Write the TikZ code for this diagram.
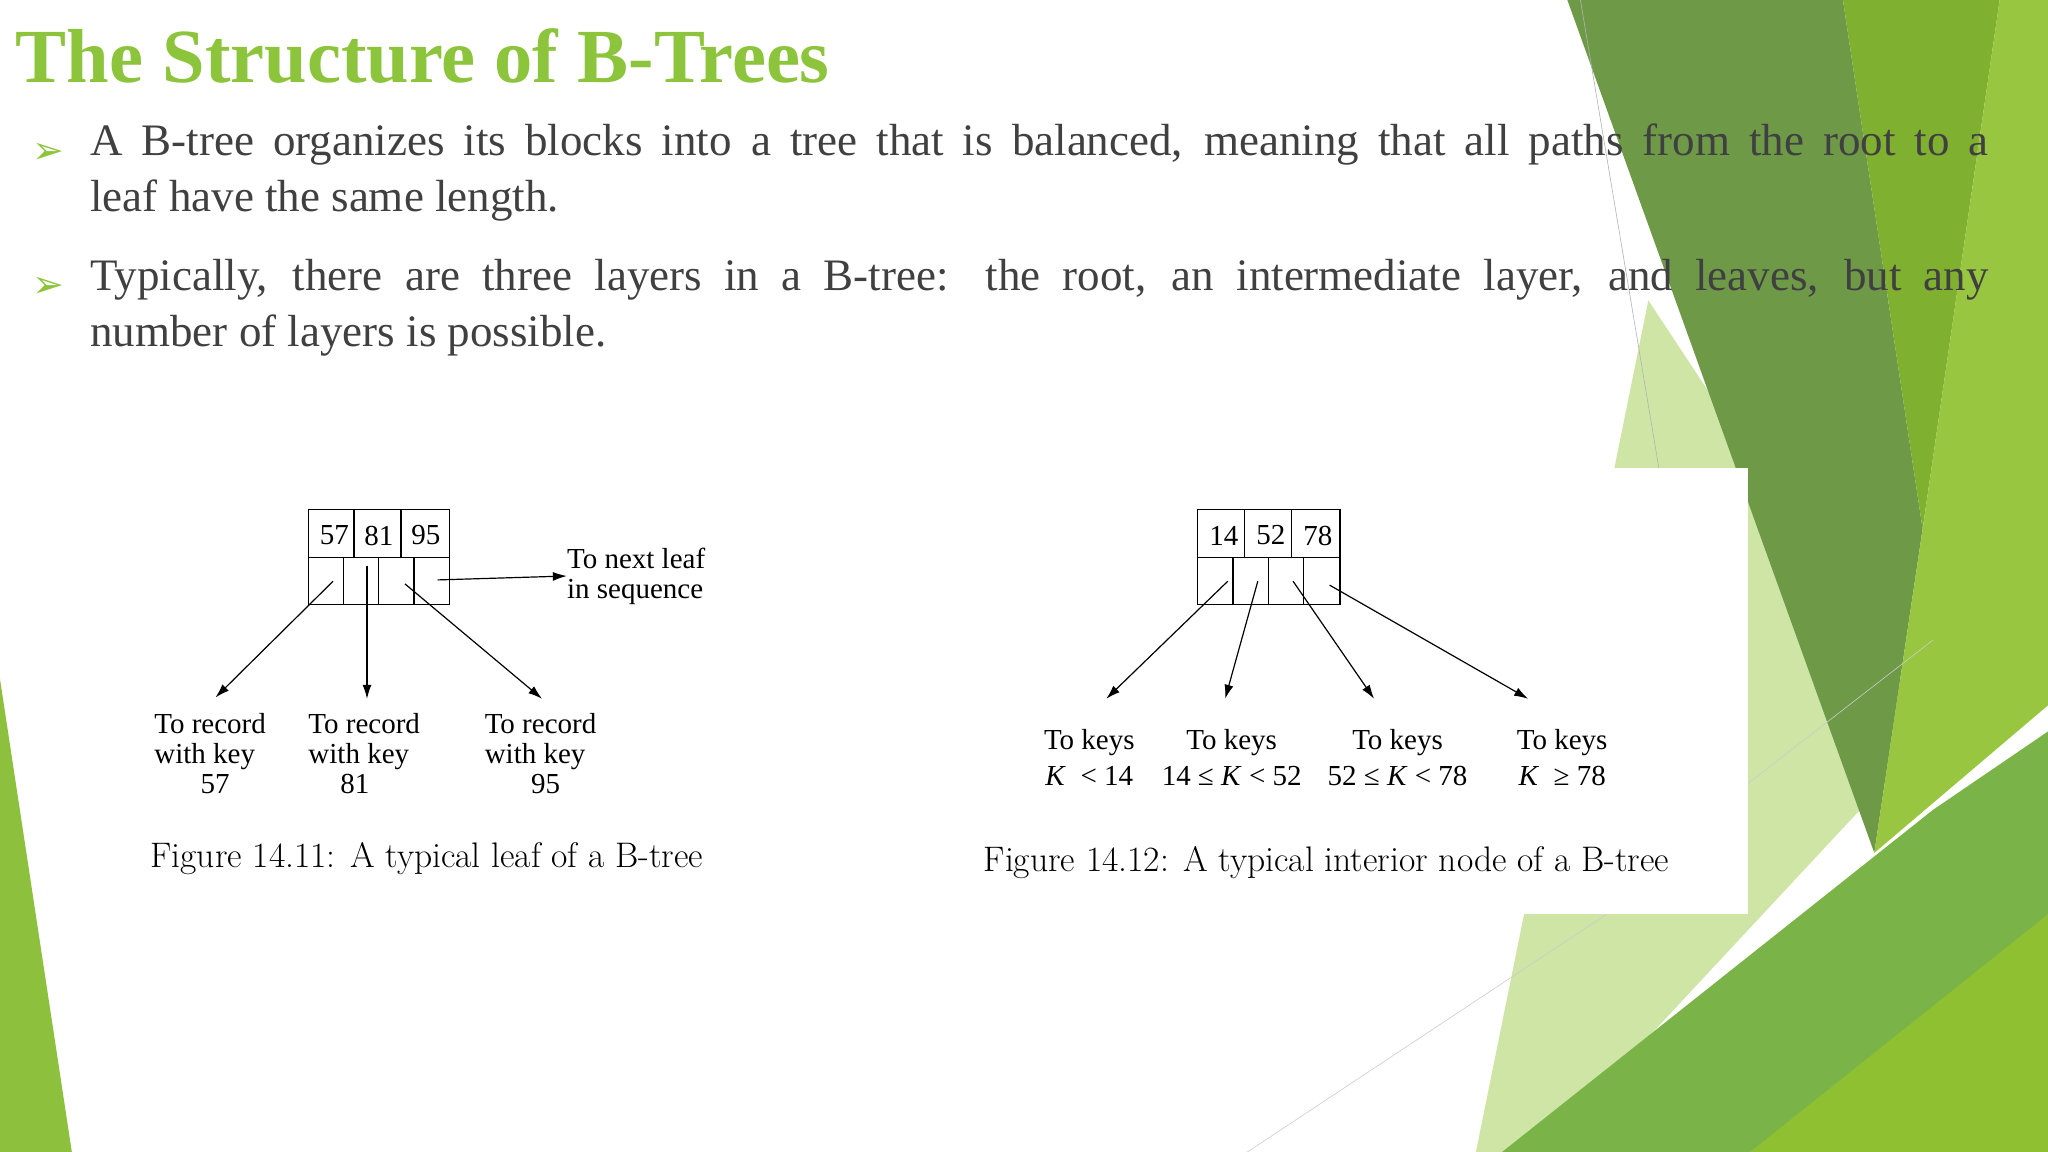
\documentclass[tikz,border=0pt]{standalone}
\usepackage{fontspec}
\setmainfont{Liberation Serif}
\newfontfamily\lmr{Latin Modern Roman}
\newfontfamily\djv{DejaVu Sans}
\usetikzlibrary{arrows.meta}
\definecolor{titlegreen}{HTML}{8CC43C}
\definecolor{bodygray}{HTML}{404040}
\begin{document}
\begin{tikzpicture}[x=1.306pt,y=-1.306pt,
  cell/.style={draw=black,line width=1.3pt},
  ptr/.style={line width=1.2pt,-{Latex[length=14pt,width=9pt]}},
  lbl/.style={font=\fontsize{29}{30}\selectfont,align=left,inner sep=0pt},
  lblc/.style={font=\fontsize{29}{36}\selectfont,align=center,inner sep=0pt},
  keytxt/.style={font=\fontsize{29}{30}\selectfont,inner sep=0pt},
  figcap/.style={font=\lmr\fontsize{35.5}{40}\selectfont,inner sep=0pt},
  bul/.style={font=\djv\fontsize{38}{38}\selectfont,text=titlegreen,inner sep=0pt},
  para/.style={font=\fontsize{45}{56}\selectfont,text=bodygray,inner sep=0pt,text width=1898pt,align=justify,anchor=north west}]
\useasboundingbox (0,0) rectangle (1568,882);
\fill[white] (0,0) rectangle (1568,882);
% background shapes
\fill[fill={rgb,255:red,206;green,229;blue,166}] (1262,230) -- (1480,560) -- (1180,882) -- (1130,882) -- cycle;
\fill[fill={rgb,255:red,110;green,154;blue,72}] (1200,0) -- (1411,0) -- (1472,405) -- (1435,653) -- cycle;
\fill[fill={rgb,255:red,128;green,176;blue,48}] (1411,0) -- (1531,0) -- (1472,405) -- cycle;
\fill[fill={rgb,255:red,152;green,198;blue,64}] (1531,0) -- (1568,0) -- (1568,540) -- (1435,653) -- (1472,405) -- cycle;
\fill[fill={rgb,255:red,122;green,180;blue,72}] (1150,882) -- (1480,620) -- (1568,560) -- (1568,882) -- cycle;
\fill[fill={rgb,255:red,143;green,192;blue,49}] (1340,882) -- (1568,700) -- (1568,882) -- cycle;
\fill[fill={rgb,255:red,141;green,192;blue,60}] (0,520) -- (55,882) -- (0,882) -- cycle;
\draw[black!30,line width=0.6pt] (1210,0) -- (1270,358);
\draw[black!20,line width=0.6pt] (955,882) -- (1230,700);
\draw[black!20,line width=0.6pt] (1338,600) -- (1480,490);
% white panel of figure 14.12
\fill[white] (740,358) rectangle (1338,700);
% title
\node[anchor=base west,inner sep=0pt,font=\bfseries\fontsize{76.5}{80}\selectfont,text=titlegreen] (title) at (12,63) {The Structure of B-Trees};
% bullets
\node[bul,anchor=base west] (b1) at (25,125) {➢};
\node[para] (p1) at (69,95) {A B-tree organizes its blocks into a tree that is balanced, meaning that all paths from the root to a\linebreak leaf have the same length.};
\node[bul,anchor=base west] (b2) at (25,228) {➢};
\node[para] (p2) at (69,198) {Typically, there are three layers in a B-tree: the root, an intermediate layer, and leaves, but any\linebreak number of layers is possible.};
% Figure 14.11
\draw[cell] (236,390) rectangle (344,463);
\draw[cell] (236,427) -- (344,427);
\draw[cell] (271,390) -- (271,427) (307,390) -- (307,427);
\draw[cell] (263,427) -- (263,463) (290,427) -- (290,463) (317,427) -- (317,463);
\node[keytxt] (k57) at (256,410) {57};
\node[keytxt] (k81) at (290,410) {81};
\node[keytxt] (k95) at (326,410) {95};
\coordinate (la1) at (255,445); \coordinate (la2) at (281,433);
\coordinate (la3) at (310,447); \coordinate (la4) at (335,444);
\node[lbl,anchor=north west] (r57) at (118,546) {To record\\with key\\\hspace*{1.6em}57};
\node[lbl,anchor=north west] (r81) at (236,546) {To record\\with key\\\hspace*{1.1em}81};
\node[lbl,anchor=north west] (r95) at (371,546) {To record\\with key\\\hspace*{1.6em}95};
\node[lbl,anchor=west] (nxt) at (434,441) {To next leaf\\in sequence};
\draw[ptr] (la1) -- (165,534);
\draw[ptr] (la2) -- (281,535);
\draw[ptr] (la3) -- (415,535);
\draw[ptr] (la4) -- (nxt.west);
\node[figcap,anchor=base west] (c1) at (115,664) {Figure 14.11: A typical leaf of a B-tree};
% Figure 14.12
\draw[cell] (917,390) rectangle (1026,463);
\draw[cell] (917,427) -- (1026,427);
\draw[cell] (953,390) -- (953,427) (989,390) -- (989,427);
\draw[cell] (944,427) -- (944,463) (971,427) -- (971,463) (998,427) -- (998,463);
\node[keytxt] (k14) at (937,410) {14};
\node[keytxt] (k52) at (973,410) {52};
\node[keytxt] (k78) at (1009,410) {78};
\coordinate (ia1) at (940,445); \coordinate (ia2) at (963,445);
\coordinate (ia3) at (990,445); \coordinate (ia4) at (1018,448);
\node[lblc] (t1) at (834,580) {To keys\\\textit{K}\ \ < 14};
\node[lblc] (t2) at (943,580) {To keys\\14 ≤ \textit{K} < 52};
\node[lblc] (t3) at (1070,580) {To keys\\52 ≤ \textit{K} < 78};
\node[lblc] (t4) at (1196,580) {To keys\\\textit{K}\ \ ≥ 78};
\draw[ptr] (ia1) -- (847,535);
\draw[ptr] (ia2) -- (938,535);
\draw[ptr] (ia3) -- (1052,535);
\draw[ptr] (ia4) -- (1170,535);
\node[figcap,anchor=base west] (c2) at (753,667) {Figure 14.12: A typical interior node of a B-tree};
\end{tikzpicture}
\end{document}
